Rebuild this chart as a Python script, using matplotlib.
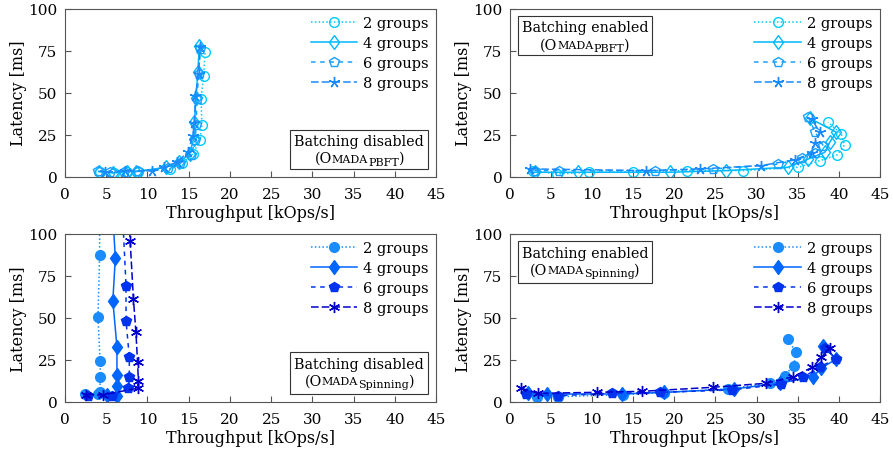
import matplotlib
matplotlib.use("Agg")
import matplotlib.pyplot as plt
from matplotlib.offsetbox import TextArea, HPacker, VPacker, AnchoredOffsetbox, DrawingArea
from matplotlib.textpath import TextToPath
from matplotlib.font_manager import FontProperties
from matplotlib.text import Text

plt.rcParams['font.family'] = ['DejaVu Serif']

labels = ['2 groups', '4 groups', '6 groups', '8 groups']

# top left: batching disabled, PBFT
tl_x = [
    [4.3, 5.9, 7.5, 8.8, 12.7, 14.2, 15.5, 16.4, 16.6, 16.5, 16.8, 17.0],
    [4.1, 5.8, 7.5, 8.6, 12.3, 13.8, 15.1, 15.6, 15.7, 15.9, 16.1, 16.3],
    [4.0, 5.5, 7.2, 8.8, 12.5, 14.0, 15.3, 15.8, 15.9, 16.0, 16.2, 16.4],
    [4.9, 7.3, 10.5, 12.0, 13.6, 14.9, 15.5, 15.7, 15.8, 16.2, 16.4],
]
tl_y = [
    [3.0, 2.2, 3.0, 3.0, 4.6, 8.2, 13.5, 22.0, 30.8, 46.3, 59.8, 74.0],
    [3.0, 2.3, 3.0, 3.0, 5.6, 8.6, 13.5, 22.4, 32.4, 47.0, 62.5, 78.0],
    [3.2, 2.5, 3.0, 3.2, 5.0, 8.0, 13.0, 22.0, 31.0, 46.0, 61.0, 76.0],
    [2.6, 3.4, 3.5, 5.8, 8.6, 14.7, 24.0, 32.0, 48.0, 61.0, 77.0],
]

# top right: batching enabled, PBFT
tr_x = [
    [2.8, 5.7, 9.6, 15.0, 21.5, 28.4, 35.1, 37.7, 39.8, 40.7, 40.3, 38.7],
    [3.0, 8.3, 19.5, 26.3, 33.8, 36.3, 38.3, 38.9, 39.7, 36.5],
    [3.0, 6.0, 17.6, 24.7, 32.6, 35.5, 37.1, 38.1, 37.1, 36.3],
    [2.5, 16.6, 23.1, 30.6, 34.7, 36.7, 37.1, 37.7, 36.7],
]
tr_y = [
    [3.6, 1.6, 2.6, 3.0, 3.6, 3.6, 5.6, 9.5, 12.9, 18.9, 25.4, 32.4],
    [2.6, 2.6, 2.6, 3.6, 5.6, 10.5, 14.5, 20.5, 26.4, 34.7],
    [3.6, 3.6, 3.6, 4.6, 7.4, 11.2, 14.1, 18.5, 26.8, 35.4],
    [4.6, 3.6, 4.6, 6.6, 10.1, 14.1, 20.1, 26.4, 34.3],
]

# bottom left: batching disabled, Spinning
bl_x = [
    [2.4, 4.0, 4.2, 4.3, 4.25, 4.0, 4.2, 4.2],
    [5.1, 6.3, 6.3, 6.3, 6.3, 5.8, 6.1, 5.7],
    [2.8, 5.7, 7.7, 7.8, 7.8, 7.4, 7.4, 6.9],
    [2.6, 4.65, 8.8, 8.9, 8.8, 8.6, 8.3, 7.9, 7.6],
]
bl_y = [
    [4.6, 4.6, 5.6, 14.5, 24.4, 50.6, 87.5, 140.0],
    [4.1, 3.6, 9.5, 16.0, 32.7, 60.0, 85.5, 120.0],
    [3.6, 3.6, 8.2, 14.5, 26.4, 48.3, 69.0, 120.0],
    [4.2, 4.2, 8.0, 12.1, 23.4, 41.3, 61.0, 95.8, 130.0],
]

# bottom right: batching enabled, Spinning
br_x = [
    [3.3, 5.8, 13.7, 18.8, 26.5, 31.6, 33.4, 34.5, 34.8, 33.8],
    [2.2, 4.5, 13.6, 18.8, 27.2, 32.8, 36.9, 37.9, 39.7, 38.1],
    [2.0, 5.9, 12.4, 18.3, 27.0, 33.0, 35.7, 37.7, 39.7, 38.3],
    [1.3, 3.4, 10.6, 16.1, 24.7, 31.2, 34.4, 36.8, 37.9, 38.9],
]
br_y = [
    [3.0, 3.0, 4.2, 5.4, 7.6, 11.0, 15.5, 21.4, 29.4, 37.3],
    [5.0, 4.6, 4.6, 5.6, 7.6, 11.0, 15.0, 20.1, 25.4, 33.3],
    [4.6, 3.6, 5.0, 5.6, 7.0, 10.5, 14.5, 20.9, 25.4, 32.0],
    [8.2, 5.0, 5.6, 6.2, 8.6, 11.0, 14.9, 20.5, 26.4, 32.0],
]

pbft_colors = ['#00ccff', '#00b8ff', '#1aa0ff', '#1a8aff']
spin_colors = ['#1a8cff', '#0066ff', '#0033ee', '#0000cc']
line_styles = [(0, (1, 1.5)), '-', (0, (3, 3)), (0, (5, 2))]
marker_sizes = [7, 10, 7, 8]
diamond = [(0, 1), (0.72, 0), (0, -1), (-0.72, 0), (0, 1)]


def draw(ax, xs, ys, colors, filled):
    # pgfplots-like marks: open for PBFT, filled for Spinning
    marks = ['o', diamond, 'p', (6, 2, 0) if filled else (5, 2, 0)]
    for i in range(4):
        ax.plot(xs[i], ys[i], linestyle=line_styles[i], color=colors[i],
                marker=marks[i], markersize=marker_sizes[i],
                markerfacecolor=colors[i] if filled else 'none',
                markeredgecolor=colors[i], markeredgewidth=1.0,
                linewidth=1.1, label=labels[i])
    ax.set_xlim(0, 45)
    ax.set_ylim(0, 100)
    ax.set_xticks(range(0, 46, 5))
    ax.set_yticks(range(0, 101, 25))
    ax.tick_params(direction='in', length=4, labelsize=11, color='#555555')
    ax.tick_params(axis='x', pad=7.5)
    ax.tick_params(axis='y', pad=5.5)
    for s in ax.spines.values():
        s.set_color('#555555')
        s.set_linewidth(0.8)
    ax.set_xlabel('Throughput [kOps/s]', fontsize=11.5, labelpad=2)
    ax.set_ylabel('Latency [ms]', fontsize=11.5, labelpad=0.5)
    ax.legend(loc='upper right', frameon=False, fontsize=10.5, handlelength=3.2,
              handletextpad=0.4, labelspacing=0.42, borderaxespad=0.2, borderpad=0.3)


def subscript(s, size, shift):
    fp = FontProperties(family='DejaVu Serif', size=size)
    w, h, d = TextToPath().get_text_width_height_descent(s, fp, ismath=False)
    da = DrawingArea(w, h, 0, d + shift, clip=False)
    da.add_artist(Text(0, -shift, s, fontproperties=fp, va='baseline'))
    return da


def note(ax, first, sub, loc):
    line1 = TextArea(first, textprops=dict(size=10.3))
    parts = [
        TextArea('(O', textprops=dict(size=10.3)),
        TextArea('MADA', textprops=dict(size=8)),
        subscript(sub, 8, 2.2),
        TextArea(')', textprops=dict(size=10.3)),
    ]
    line2 = HPacker(children=parts, align='baseline', pad=0, sep=0)
    box = VPacker(children=[line1, line2], align='center', pad=0, sep=2)
    anchored = AnchoredOffsetbox(loc=loc, child=box, pad=0.3, borderpad=0.55, frameon=True)
    anchored.patch.set_edgecolor('#333333')
    anchored.patch.set_linewidth(0.8)
    anchored.patch.set_boxstyle('square', pad=0)
    ax.add_artist(anchored)


fig = plt.figure(figsize=(8.93, 4.52), dpi=100)
ax_tl = fig.add_axes([0.0728, 0.607, 0.4155, 0.3717])
ax_tr = fig.add_axes([0.571, 0.607, 0.4143, 0.3717])
ax_bl = fig.add_axes([0.0728, 0.109, 0.4155, 0.3717])
ax_br = fig.add_axes([0.571, 0.109, 0.4143, 0.3717])

draw(ax_tl, tl_x, tl_y, pbft_colors, False)
draw(ax_tr, tr_x, tr_y, pbft_colors, False)
draw(ax_bl, bl_x, bl_y, spin_colors, True)
draw(ax_br, br_x, br_y, spin_colors, True)

note(ax_tl, 'Batching disabled', 'PBFT', 'lower right')
note(ax_tr, 'Batching enabled', 'PBFT', 'upper left')
note(ax_bl, 'Batching disabled', 'Spinning', 'lower right')
note(ax_br, 'Batching enabled', 'Spinning', 'upper left')

fig.savefig('out.png', dpi=100)
